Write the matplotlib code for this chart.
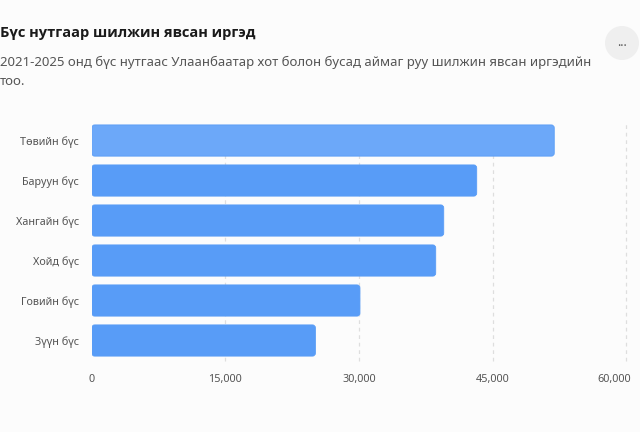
import matplotlib.pyplot as plt
import matplotlib.transforms as mtransforms
from matplotlib.patches import FancyBboxPatch, Ellipse

regions = ['Төвийн бүс', 'Баруун бүс', 'Хангайн бүс', 'Хойд бүс', 'Говийн бүс', 'Зүүн бүс']
migrants = [51900, 43200, 39500, 38600, 30100, 25100]
xticks = [0, 15000, 30000, 45000, 60000]

title = 'Бүс нутгаар шилжин явсан иргэд'
subtitle = ('2021-2025 онд бүс нутгаас Улаанбаатар хот болон бусад аймаг руу шилжин явсан иргэдийн\n'
            'тоо.')

plt.rcParams['font.family'] = ['Noto Sans', 'DejaVu Sans']

fig = plt.figure(figsize=(6.4, 4.32), dpi=100)
fig.patch.set_facecolor('#fcfcfc')
ax = fig.add_axes([0.1433, 0.1655, 0.8355, 0.5555])
ax.set_facecolor('#fcfcfc')

ypos = list(range(len(regions)))
bars = ax.barh(ypos, migrants, height=0.78, color='none')
ax.set_xlim(0, 60000)
ax.set_ylim(len(regions) - 0.5, -0.5)

# rounded bars on top of the plain ones
aspect = 0.075 / 337
for i, b in enumerate(bars):
    color = '#6ca8f9' if i == 0 else '#589cf7'
    p = FancyBboxPatch((b.get_x(), b.get_y()), b.get_width(), b.get_height(),
                       boxstyle='round,pad=0,rounding_size=337', mutation_aspect=aspect,
                       facecolor=color, edgecolor='#5a9df6', linewidth=0.6, zorder=3)
    ax.add_patch(p)
    b.remove()

for x in xticks[1:]:
    ax.axvline(x, color='#dedede', linestyle=(0, (3, 3)), linewidth=0.9, zorder=1, clip_on=False)

ax.set_xticks(xticks)
ax.set_xticklabels([f'{v:,}' for v in xticks])
ax.set_yticks(ypos)
ax.set_yticklabels(regions)
ax.tick_params(axis='both', length=0, labelsize=7.8, colors='#555555')
ax.tick_params(axis='x', pad=10)
ax.tick_params(axis='y', pad=9)
for s in ax.spines.values():
    s.set_visible(False)

# last label is pushed inward so it stays inside the canvas
last = ax.get_xticklabels()[-1]
last.set_transform(last.get_transform() + mtransforms.ScaledTranslation(-12 / 100, 0, fig.dpi_scale_trans))

fig.text(0.0, 1 - 33 / 432, title, fontsize=10.5, fontweight='bold', color='#1a1a1a', va='center',
         family=['Open Sans', 'DejaVu Sans'])
fig.text(0.0, 1 - 72 / 432, subtitle, fontsize=9.5, color='#555555', va='center', linespacing=1.55)

fig.patches.append(Ellipse((622 / 640, 1 - 43 / 432), 34 / 640, 34 / 432, transform=fig.transFigure,
                           facecolor='#efefef', edgecolor='none'))
fig.text(622 / 640, 1 - 42 / 432, '...', ha='center', va='center', fontsize=9, color='#555555')

fig.savefig('out.png', dpi=100, facecolor=fig.get_facecolor())
